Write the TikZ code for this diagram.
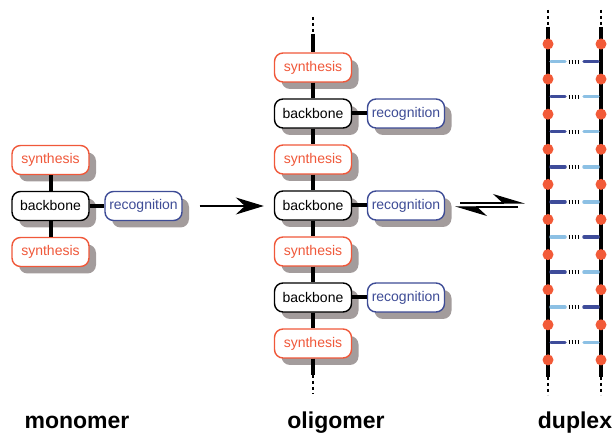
\documentclass[tikz,border=0pt]{standalone}
\usepackage{fontspec}
\setmainfont{Liberation Sans}
\usetikzlibrary{arrows.meta,shadows,positioning}
\definecolor{synred}{RGB}{240,88,58}
\definecolor{recblue}{RGB}{62,76,150}
\definecolor{shadowgray}{RGB}{163,156,156}
\definecolor{lightrung}{RGB}{140,192,228}
\definecolor{darkrung}{RGB}{62,76,154}
\definecolor{dotred}{RGB}{242,90,56}
\tikzset{
        box/.style={rounded corners=8.5pt, draw, fill=white, line width=1.4pt, minimum width=77pt, minimum height=29pt,
          inner sep=0pt, font=\fontsize{14}{16}\selectfont,
          general shadow={fill=shadowgray, shadow xshift=7pt, shadow yshift=-7pt}},
        synthesis/.style={box, draw=synred, text=synred},
        backbone/.style={box, draw=black, text=black},
        recognition/.style={box, draw=recblue, text=recblue},
        link/.style={line width=4pt},
        strandend/.style={line width=2pt, dash pattern=on 3.5pt off 2.5pt},
        dot/.style={circle, fill=dotred, inner sep=0pt, minimum size=11pt},
        rung/.style={line width=3.5pt, line cap=round},
        rungdash/.style={line width=4pt, dash pattern=on 1.6pt off 1.4pt},
        forward/.style={line width=1.2pt, -{Stealth[length=28pt, width=17pt]}},
        harp/.style={line width=1.2pt, -{Stealth[harpoon, length=30pt, width=18pt]}},
        caption/.style={font=\bfseries\fontsize{23}{26}\selectfont, anchor=base}
          }
\begin{document}
\begin{tikzpicture}[x=1pt, y=-1pt, node distance=15.6pt and 14.6pt]
        \useasboundingbox (0,0) rectangle (614,435);
        % monomer
        \node[synthesis] (ms1) at (50.5,160) {synthesis};
        \node[backbone, below=of ms1] (mb) {backbone};
        \node[synthesis, below=of mb] (ms2) {synthesis};
        \node[recognition, right=of mb] (mr) {recognition};
        \draw[link] (ms1) -- (mb);
        \draw[link] (mb) -- (ms2);
        \draw[link] (mb) -- (mr);
        % oligomer
        \node[synthesis] (os1) at (313,67.5) {synthesis};
        \node[backbone, below=of os1] (ob1) {backbone};
        \node[synthesis, below=of ob1] (os2) {synthesis};
        \node[backbone, below=of os2] (ob2) {backbone};
        \node[synthesis, below=of ob2] (os3) {synthesis};
        \node[backbone, below=of os3] (ob3) {backbone};
        \node[synthesis, below=of ob3] (os4) {synthesis};
        \foreach \b in {1,2,3}
          \node[recognition, right=of ob\b] (or\b) {recognition};
        \draw[link] (os1) -- (ob1);
        \draw[link] (ob1) -- (os2);
        \draw[link] (os2) -- (ob2);
        \draw[link] (ob2) -- (os3);
        \draw[link] (os3) -- (ob3);
        \draw[link] (ob3) -- (os4);
        \foreach \b in {1,2,3}
          \draw[link] (ob\b) -- (or\b);
        \coordinate (otop) at (313,17);
        \coordinate (otopsolid) at (313,34);
        \coordinate (obotsolid) at (313,375);
        \coordinate (obot) at (313,394);
        \draw[strandend] (otop) -- (otopsolid);
        \draw[link] (otopsolid) -- (os1);
        \draw[link] (os4) -- (obotsolid);
        \draw[strandend] (obotsolid) -- (obot);
        % arrows
        \draw[forward, shorten <=17pt, shorten >=10pt] (mr.east) -- (mr.east -| ob2.west);
        \coordinate (fwdA) at (460,203);
        \coordinate (fwdB) at (525,203);
        \coordinate (revA) at (518,207);
        \coordinate (revB) at (455,207);
        \draw[harp] (fwdA) -- (fwdB);
        \draw[harp] (revA) -- (revB);
        % duplex
        \foreach \s/\x in {l/548, r/601} {
          \coordinate (\s top) at (\x,10);
          \coordinate (\s topsolid) at (\x,27);
          \coordinate (\s botsolid) at (\x,377);
          \coordinate (\s bot) at (\x,395);
          \draw[strandend] (\s top) -- (\s topsolid);
          \draw[link] (\s topsolid) -- (\s botsolid);
          \draw[strandend] (\s botsolid) -- (\s bot);
        }
        \foreach \k/\lc/\rc in {0/lightrung/darkrung, 1/darkrung/lightrung, 2/darkrung/lightrung,
            3/darkrung/lightrung, 4/darkrung/lightrung, 5/lightrung/darkrung, 6/darkrung/lightrung,
            7/lightrung/darkrung, 8/darkrung/lightrung} {
          \coordinate (ra\k) at (551,61.55+35.1*\k);
          \coordinate (rb\k) at (565,61.55+35.1*\k);
          \coordinate (rc\k) at (568.5,61.55+35.1*\k);
          \coordinate (rd\k) at (579.5,61.55+35.1*\k);
          \coordinate (re\k) at (584,61.55+35.1*\k);
          \coordinate (rf\k) at (598,61.55+35.1*\k);
          \draw[rung, \lc] (ra\k) -- (rb\k);
          \draw[rungdash] (rc\k) -- (rd\k);
          \draw[rung, \rc] (re\k) -- (rf\k);
        }
        \foreach \k in {0,...,9} {
          \node[dot] (l\k) at (548,44+35.1*\k) {};
          \node[dot] (r\k) at (601,44+35.1*\k) {};
        }
        % captions
        \node[caption] (monolabel) at (77,429) {monomer};
        \node[caption] (oligolabel) at (336,429) {oligomer};
        \node[caption] (duplabel) at (575,429) {duplex};
      \end{tikzpicture}
\end{document}
